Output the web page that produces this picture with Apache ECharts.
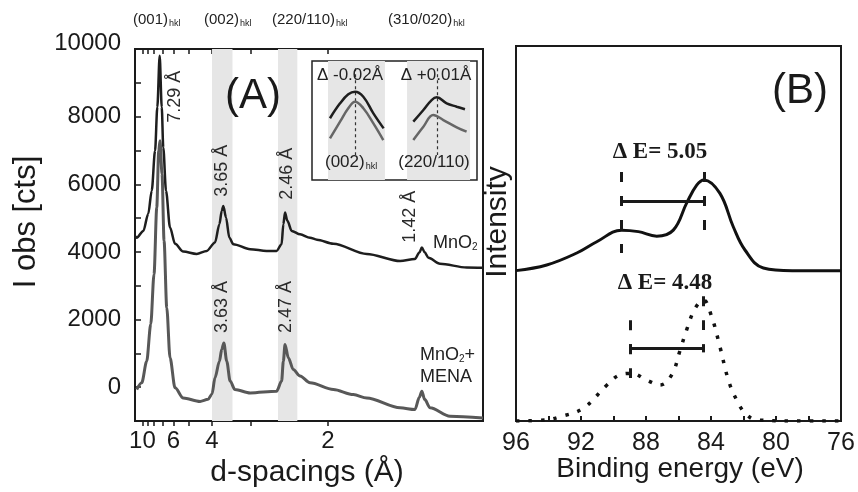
<!DOCTYPE html>
<html>
<head>
<meta charset="utf-8">
<script src="https://cdn.jsdelivr.net/npm/echarts@6/dist/echarts.min.js"></script>
<style>
html, body { margin: 0; padding: 0; background: #fff; }
#main { width: 858px; height: 492px; }
</style>
</head>
<body>
<div id="main"></div>
<script>
// (A) XRD pattern, d-spacing in Angstrom vs counts
var dMnO2 = [11.9, 11.4, 9.81, 8.88, 8.33, 7.86, 7.57, 7.29, 7.06, 6.90, 6.63, 6.27, 5.87, 5.32, 4.61, 4.19, 3.90, 3.76, 3.69, 3.645,
    3.57, 3.48, 3.38, 3.01, 2.72, 2.57, 2.50, 2.477, 2.455, 2.425, 2.371, 2.274, 2.168, 2.10, 1.955, 1.714, 1.526, 1.455, 1.435, 1.424,
    1.412, 1.396, 1.349, 1.252, 1.199];
var iMnO2 = [4470, 4420, 4620, 5130, 5810, 6990, 8280, 9800, 8280, 7090, 5810, 4720, 4240, 4010, 3940, 4030, 4280, 4820, 5220, 5360,
    5020, 4420, 4230, 4080, 4030, 4030, 4230, 4820, 5165, 4920, 4620, 4520, 4420, 4360, 4240, 3940, 3730, 3790, 3980, 4130,
    3990, 3830, 3650, 3540, 3530];
var dMena = [11.4, 10.15, 9.15, 8.48, 8.0, 7.64, 7.40, 7.25, 7.03, 6.82, 6.56, 6.27, 5.87, 5.32, 4.46, 4.14, 4.0, 3.90, 3.76, 3.69,
    3.63, 3.55, 3.46, 3.34, 3.01, 2.57, 2.50, 2.477, 2.455, 2.413, 2.352, 2.274, 2.168, 1.955, 1.803, 1.714, 1.526, 1.455, 1.435, 1.424,
    1.412, 1.389, 1.311, 1.199];
var iMena = [-70, 130, 770, 1860, 3340, 5310, 6990, 7290, 6300, 4330, 2350, 870, -20, -320, -420, -360, -200, 280, 770, 1120,
    1310, 770, 180, -70, -170, -120, 180, 770, 1265, 870, 520, 330, 130, -70, -220, -320, -610, -660, -300, -120,
    -360, -610, -860, -910];

var tickD = [10, 9, 8, 7, 6, 5, 4, 3, 2];
var labelD = [10, 6, 4, 2];
var yLabels = [0, 2000, 4000, 6000, 8000, 10000];
var bandD = [[4.0, 3.4], [2.55, 2.305]];

// peak labels (text, where it sits: d, counts)
var peakText = ['7.29 Å', '3.65 Å', '2.46 Å', '1.42 Å'];
var peakAtD = [5.87, 3.68, 2.43, 1.478];
var peakAtI = [8590, 6400, 6310, 5040];
var peakText2 = ['3.63 Å', '2.47 Å'];
var peakAtD2 = [3.68, 2.44];
var peakAtI2 = [2370, 2370];

// inset, arbitrary units 0..100
var insBands = [[9.7, 44.2], [57.6, 95.8]];
var insCenters = [26.1, 75.8];
var insBlackL = [[10.9, 51.9], [17, 64.4], [22, 72], [26.1, 74.2], [31.1, 70], [37.2, 56], [43.4, 43.4]];
var insGrayL = [[10.9, 35], [17, 49], [22, 60.3], [26.1, 65.8], [31.1, 60.3], [37.2, 47.6], [43.2, 33.6]];
var insBlackR = [[61.4, 49], [67.5, 58.8], [72.5, 67.2], [75.6, 69.5], [81.6, 64.4], [87.7, 61.6], [92.7, 59.4]];
var insGrayR = [[61.4, 33.6], [67.5, 44.8], [73.5, 54.6], [79.6, 50.4], [87.7, 44.3], [93.7, 40.6]];

// (B) XPS, binding energy (eV) vs intensity (a.u.)
var eSolid = [96, 94.11, 92.26, 91.03, 89.5, 88.47, 87.34, 86.32, 85.5, 84.88, 84.43, 83.45, 82.63, 81.91, 80.78, 79, 76];
var iSolid = [40.1, 41.6, 44.8, 47.8, 50.9, 50.5, 49.3, 50.9, 58.1, 62.9, 64.3, 60.7, 51.8, 45.6, 40.8, 40.1, 40.1];
var eDot = [96, 94.1, 93.3, 91.86, 90.4, 89.6, 88.88, 87.96, 87.14, 86.42, 85.9, 85.5, 84.98, 84.47, 83.96, 83.45, 82.93, 82.42, 81.9, 81.19, 79, 76];
var iDot = [0, 0.3, 1.1, 3.4, 9.6, 12.3, 12.7, 10.9, 9.6, 12.3, 18.9, 24.3, 30.0, 32.3, 27.8, 19.8, 10.9, 5.6, 2.1, 0.3, 0, 0];

var gapTopE = [89.5, 84.43];
var gapTopSpan = [[44.8, 66.4], [50.9, 66.4]];
var gapTopBar = 58.7;
var gapLowE = [88.98, 84.47];
var gapLowSpan = [[11.5, 26.9], [24.3, 33.3]];
var gapLowBar = 19.4;
var gapText = ['Δ E= 5.05', 'Δ E= 4.48'];
var gapTextAt = [[87.14, 71.7], [86.83, 36.8]];

var FONT = '"Liberation Sans", Arial, Helvetica, sans-serif';
var SERIF = '"Liberation Serif", "Times New Roman", serif';
var INK = '#1a1a1a';

function inv(d) { return 1 / d; }
function pairs(xs, ys, fx) {
    return xs.map(function (x, i) { return [fx ? fx(x) : x, ys[i]]; });
}
function labelPoints(texts, ds, is) {
    return texts.map(function (t, i) { return { name: t, coord: [1 / ds[i], is[i]] }; });
}
function gapLines(xs, spans, bar) {
    var dash = { type: [10, 14], width: 3, color: INK };
    var solid = { type: 'solid', width: 3, color: INK };
    var out = [];
    xs.forEach(function (x, i) {
        out.push([{ coord: [x, spans[i][1]], lineStyle: dash }, { coord: [x, spans[i][0]] }]);
        out.push([{ coord: [x, bar + 1.1], lineStyle: solid }, { coord: [x, bar - 1.1] }]);
    });
    out.push([{ coord: [xs[0], bar], lineStyle: solid }, { coord: [xs[1], bar] }]);
    return out;
}

var peakLabel = {
    show: true, position: 'inside', rotate: 90, formatter: '{b}',
    fontFamily: FONT, fontSize: 18, color: '#2a2a2a'
};

var myChart = echarts.init(document.getElementById('main'));

myChart.setOption({
    animation: false,
    backgroundColor: '#fff',
    grid: [
        { left: 135, top: 49, width: 348, height: 372, show: true, borderColor: INK, borderWidth: 2, backgroundColor: 'transparent' },
        { left: 516, top: 46, width: 325, height: 375, show: true, borderColor: INK, borderWidth: 2, backgroundColor: 'transparent' },
        { left: 312, top: 61, width: 165, height: 119, show: true, borderColor: '#222', borderWidth: 1.5, backgroundColor: '#fff' }
    ],
    xAxis: [
        {
            gridIndex: 0, type: 'value', min: 0.084, max: 0.834, position: 'bottom',
            axisLine: { onZero: false, lineStyle: { color: INK, width: 2 } },
            axisTick: { customValues: tickD.map(inv), inside: false, length: 5, lineStyle: { color: INK, width: 1.5 } },
            axisLabel: {
                customValues: labelD.map(inv), margin: 8,
                formatter: function (v) { return Math.round(1 / v); },
                fontFamily: FONT, fontSize: 24, color: INK
            },
            splitLine: { show: false }
        },
        {
            gridIndex: 0, type: 'value', min: 0.084, max: 0.834, position: 'top',
            axisLine: { show: false, onZero: false },
            axisTick: { customValues: tickD.map(inv), inside: true, length: 5, lineStyle: { color: INK, width: 1.5 } },
            axisLabel: { show: false },
            splitLine: { show: false }
        },
        {
            gridIndex: 1, type: 'value', min: 76, max: 96, interval: 2, inverse: true,
            axisLine: { onZero: false, lineStyle: { color: INK, width: 2 } },
            axisTick: { inside: true, length: 5, lineStyle: { color: INK, width: 2 } },
            axisLabel: { customValues: [96, 92, 88, 84, 80, 76], margin: 10, fontFamily: FONT, fontSize: 25, color: INK },
            splitLine: { show: false }
        },
        { gridIndex: 2, type: 'value', min: 0, max: 100, show: false }
    ],
    yAxis: [
        {
            gridIndex: 0, type: 'value', min: -1000, max: 10000, interval: 1000,
            axisLine: { show: true, onZero: false, lineStyle: { color: INK, width: 2 } },
            axisTick: { show: true, inside: true, length: 6, lineStyle: { color: INK, width: 1.5 } },
            axisLabel: {
                customValues: yLabels, margin: 14, fontFamily: FONT, fontSize: 24, color: INK,
                formatter: function (v) { return v === 10000 ? '{t|10000}' : v; },
                rich: { t: { fontFamily: FONT, fontSize: 24, color: INK, padding: [0, 0, 12, 0] } }
            },
            splitLine: { show: false }
        },
        {
            gridIndex: 1, type: 'value', min: 0, max: 100,
            axisLine: { show: true, onZero: false, lineStyle: { color: INK, width: 2 } },
            axisTick: { show: false }, axisLabel: { show: false }, splitLine: { show: false }
        },
        { gridIndex: 2, type: 'value', min: 0, max: 100, show: false }
    ],
    series: [
        {
            name: 'MnO2', type: 'line', xAxisIndex: 0, yAxisIndex: 0,
            data: pairs(dMnO2, iMnO2, inv), symbol: 'none', smooth: 0.3, smoothMonotone: 'x',
            lineStyle: { color: '#1e1e1e', width: 2.5 },
            markArea: {
                silent: true, itemStyle: { color: '#e6e6e6' },
                data: bandD.map(function (b) { return [{ xAxis: 1 / b[0] }, { xAxis: 1 / b[1] }]; })
            },
            markPoint: { symbol: 'circle', symbolSize: 0, silent: true, label: peakLabel, data: labelPoints(peakText, peakAtD, peakAtI) }
        },
        {
            name: 'MnO2+MENA', type: 'line', xAxisIndex: 0, yAxisIndex: 0,
            data: pairs(dMena, iMena, inv), symbol: 'none', smooth: 0.3, smoothMonotone: 'x',
            lineStyle: { color: '#585858', width: 3 },
            markPoint: { symbol: 'circle', symbolSize: 0, silent: true, label: peakLabel, data: labelPoints(peakText2, peakAtD2, peakAtI2) }
        },
        {
            name: 'insetBlackL', type: 'line', xAxisIndex: 3, yAxisIndex: 2, data: insBlackL, symbol: 'none', smooth: 0.4,
            lineStyle: { color: '#1e1e1e', width: 2.5 }, z: 5,
            markArea: {
                silent: true, itemStyle: { color: '#e6e6e6' },
                data: insBands.map(function (b) { return [{ xAxis: b[0] }, { xAxis: b[1] }]; })
            },
            markLine: {
                silent: true, symbol: ['none', 'none'], label: { show: false },
                lineStyle: { type: [3, 3], width: 1.2, color: '#333' },
                data: insCenters.map(function (x) { return [{ coord: [x, 94] }, { coord: [x, 21] }]; })
            }
        },
        { name: 'insetGrayL', type: 'line', xAxisIndex: 3, yAxisIndex: 2, data: insGrayL, symbol: 'none', smooth: 0.4, lineStyle: { color: '#666', width: 2.5 }, z: 5 },
        { name: 'insetBlackR', type: 'line', xAxisIndex: 3, yAxisIndex: 2, data: insBlackR, symbol: 'none', smooth: 0.4, lineStyle: { color: '#1e1e1e', width: 2.5 }, z: 5 },
        { name: 'insetGrayR', type: 'line', xAxisIndex: 3, yAxisIndex: 2, data: insGrayR, symbol: 'none', smooth: 0.4, lineStyle: { color: '#666', width: 2.5 }, z: 5 },
        {
            name: 'XPS solid', type: 'line', xAxisIndex: 2, yAxisIndex: 1,
            data: pairs(eSolid, iSolid), symbol: 'none', smooth: 0.4,
            lineStyle: { color: '#111', width: 3 },
            markLine: { silent: true, symbol: ['none', 'none'], label: { show: false }, data: gapLines(gapTopE, gapTopSpan, gapTopBar) },
            markPoint: {
                symbol: 'circle', symbolSize: 0, silent: true,
                label: { show: true, position: 'inside', formatter: '{b}', fontFamily: SERIF, fontWeight: 'bold', fontSize: 23, color: INK },
                data: gapText.map(function (t, i) { return { name: t, coord: gapTextAt[i] }; })
            }
        },
        {
            name: 'XPS dotted', type: 'line', xAxisIndex: 2, yAxisIndex: 1,
            data: pairs(eDot, iDot), symbol: 'none', smooth: 0.4,
            lineStyle: { color: '#111', width: 3.5, type: [3.5, 9], cap: 'butt' },
            markLine: { silent: true, symbol: ['none', 'none'], label: { show: false }, data: gapLines(gapLowE, gapLowSpan, gapLowBar) }
        }
    ],
    graphic: [
        { type: 'text', z: 100, x: 133, y: 20, style: { text: '(001){s|hkl}', fontFamily: FONT, fontSize: 15, fill: '#222', verticalAlign: 'middle', rich: { s: { fontFamily: FONT, fontSize: 9, fill: '#222', padding: [8, 0, 0, 1] } } } },
        { type: 'text', z: 100, x: 204, y: 20, style: { text: '(002){s|hkl}', fontFamily: FONT, fontSize: 15, fill: '#222', verticalAlign: 'middle', rich: { s: { fontFamily: FONT, fontSize: 9, fill: '#222', padding: [8, 0, 0, 1] } } } },
        { type: 'text', z: 100, x: 272, y: 20, style: { text: '(220/110){s|hkl}', fontFamily: FONT, fontSize: 15, fill: '#222', verticalAlign: 'middle', rich: { s: { fontFamily: FONT, fontSize: 9, fill: '#222', padding: [8, 0, 0, 1] } } } },
        { type: 'text', z: 100, x: 388, y: 20, style: { text: '(310/020){s|hkl}', fontFamily: FONT, fontSize: 15, fill: '#222', verticalAlign: 'middle', rich: { s: { fontFamily: FONT, fontSize: 9, fill: '#222', padding: [8, 0, 0, 1] } } } },
        { type: 'text', z: 100, x: 253, y: 96, style: { text: '(A)', fontFamily: FONT, fontSize: 42, fill: INK, align: 'center', verticalAlign: 'middle' } },
        { type: 'text', z: 100, x: 800, y: 91, style: { text: '(B)', fontFamily: FONT, fontSize: 42, fill: INK, align: 'center', verticalAlign: 'middle' } },
        { type: 'text', z: 100, x: 26, y: 222, rotation: Math.PI / 2, style: { text: 'I obs [cts]', fontFamily: FONT, fontSize: 31, fill: INK, align: 'center', verticalAlign: 'middle' } },
        { type: 'text', z: 100, x: 498, y: 222, rotation: Math.PI / 2, style: { text: 'Intensity', fontFamily: FONT, fontSize: 30, fill: INK, align: 'center', verticalAlign: 'middle' } },
        { type: 'text', z: 100, x: 307, y: 473, style: { text: 'd-spacings (Å)', fontFamily: FONT, fontSize: 30, fill: INK, align: 'center', verticalAlign: 'middle' } },
        { type: 'text', z: 100, x: 680, y: 469, style: { text: 'Binding energy (eV)', fontFamily: FONT, fontSize: 28, fill: INK, align: 'center', verticalAlign: 'middle' } },
        { type: 'text', z: 100, x: 433, y: 243, style: { text: 'MnO{s|2}', fontFamily: FONT, fontSize: 18, fill: '#222', verticalAlign: 'middle', rich: { s: { fontFamily: FONT, fontSize: 10, fill: '#222', padding: [9, 0, 0, 0] } } } },
        { type: 'text', z: 100, x: 420, y: 355, style: { text: 'MnO{s|2}+', fontFamily: FONT, fontSize: 18, fill: '#222', verticalAlign: 'middle', rich: { s: { fontFamily: FONT, fontSize: 10, fill: '#222', padding: [9, 0, 0, 0] } } } },
        { type: 'text', z: 100, x: 420, y: 377, style: { text: 'MENA', fontFamily: FONT, fontSize: 18, fill: '#222', verticalAlign: 'middle' } },
        { type: 'text', z: 100, x: 350, y: 75, style: { text: 'Δ -0.02Å', fontFamily: FONT, fontSize: 17, fill: '#222', align: 'center', verticalAlign: 'middle' } },
        { type: 'text', z: 100, x: 436, y: 75, style: { text: 'Δ +0.01Å', fontFamily: FONT, fontSize: 17, fill: '#222', align: 'center', verticalAlign: 'middle' } },
        { type: 'text', z: 100, x: 325, y: 162, style: { text: '(002){s|hkl}', fontFamily: FONT, fontSize: 17, fill: '#222', verticalAlign: 'middle', rich: { s: { fontFamily: FONT, fontSize: 9, fill: '#222', padding: [9, 0, 0, 1] } } } },
        { type: 'text', z: 100, x: 434, y: 162, style: { text: '(220/110)', fontFamily: FONT, fontSize: 17, fill: '#222', align: 'center', verticalAlign: 'middle' } }
    ]
});
</script>
</body>
</html>
